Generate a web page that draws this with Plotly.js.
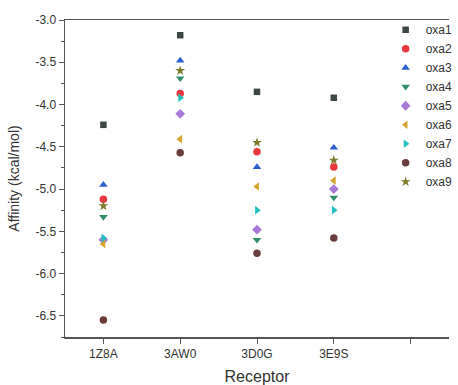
<!DOCTYPE html>
<html>
<head>
<meta charset="utf-8">
<script src="https://cdn.plot.ly/plotly-3.0.1.min.js"></script>
<style>html,body{margin:0;padding:0;background:#fff;}#chart{width:458px;height:385px;}</style>
</head>
<body>
<div id="chart"></div>
<script>
// Receptor categories (x positions 1..4, with an empty 5th slot as in the reference)
const receptors = ['1Z8A', '3AW0', '3D0G', '3E9S'];
const xTickText = ['1Z8A', '3AW0', '3D0G', '3E9S', ''];
const yTickVals = [-3.0, -3.5, -4.0, -4.5, -5.0, -5.5, -6.0, -6.5];
const yTickText = ['-3.0', '-3.5', '-4.0', '-4.5', '-5.0', '-5.5', '-6.0', '-6.5'];

const seriesNames = ['oxa1', 'oxa2', 'oxa3', 'oxa4', 'oxa5', 'oxa6', 'oxa7', 'oxa8', 'oxa9'];
// Affinity (kcal/mol) per receptor: 1Z8A, 3AW0, 3D0G, 3E9S
const oxa1 = [-4.24, -3.18, -3.85, -3.92];
const oxa2 = [-5.12, -3.87, -4.56, -4.74];
const oxa3 = [-4.95, -3.48, -4.74, -4.51];
const oxa4 = [-5.33, -3.69, -5.60, -5.10];
const oxa5 = [-5.60, -4.11, -5.48, -5.00];
const oxa6 = [-5.65, -4.41, -4.97, -4.90];
const oxa7 = [-5.58, -3.92, -5.25, -5.25];
const oxa8 = [-6.55, -4.57, -5.76, -5.58];
const oxa9 = [-5.20, -3.60, -4.45, -4.66];
const seriesValues = [oxa1, oxa2, oxa3, oxa4, oxa5, oxa6, oxa7, oxa8, oxa9];

const colors = ['#3d4743', '#e8373d', '#2a5fcf', '#2e8f68', '#a879d6', '#d4a52a', '#1fc0c0', '#6a3c3c', '#7d7a2c'];
const symbols = ['square', 'circle', 'triangle-up', 'triangle-down', 'diamond', 'triangle-left', 'triangle-right', 'circle', 'star'];

const xPos = receptors.map((_, i) => i + 1);

const traces = seriesNames.map((name, i) => ({
  type: 'scatter',
  mode: 'markers',
  name: name,
  x: xPos,
  y: seriesValues[i],
  marker: {symbol: symbols[i], color: colors[i], size: symbols[i] === 'star' ? 7.5 : (symbols[i] === 'square' ? 6.5 : 7.5), line: {width: 0}}
}));

const font = 'Liberation Sans, Arial, sans-serif';
const layout = {
  width: 458, height: 385,
  margin: {l: 65, r: 0, t: 20, b: 48},
  paper_bgcolor: '#ffffff', plot_bgcolor: '#ffffff',
  font: {family: font, color: '#333', size: 11},
  showlegend: true,
  legend: {x: 0.835, y: 1.015, xanchor: 'left', yanchor: 'top', bgcolor: 'rgba(0,0,0,0)',
           font: {family: font, size: 12, color: '#333'}, itemwidth: 30, tracegroupgap: 0},
  xaxis: {
    range: [0.5, 5.5], tickmode: 'array', tickvals: [1, 2, 3, 4, 5], ticktext: xTickText,
    showgrid: false, zeroline: false, showline: true, linecolor: '#555', linewidth: 1.5, mirror: true,
    ticks: 'outside', ticklen: 5, tickcolor: '#555', tickwidth: 1,
    tickfont: {family: font, size: 12, color: '#333'},
    title: {text: 'Receptor', font: {family: font, size: 16, color: '#333'}, standoff: 12}
  },
  yaxis: {
    range: [-6.75, -3.0], tickmode: 'array', tickvals: yTickVals, ticktext: yTickText,
    showgrid: false, zeroline: false, showline: true, linecolor: '#555', linewidth: 1.5,
    ticks: 'outside', ticklen: 5, tickcolor: '#555', tickwidth: 1,
    minor: {dtick: 0.25, tick0: -3.0, ticks: 'outside', ticklen: 3, tickcolor: '#555', showgrid: false},
    tickfont: {family: font, size: 12, color: '#333'},
    title: {text: 'Affinity (kcal/mol)', font: {family: font, size: 14, color: '#333'}, standoff: 12}
  }
};

Plotly.newPlot('chart', traces, layout, {displayModeBar: false, staticPlot: true});
</script>
</body>
</html>
